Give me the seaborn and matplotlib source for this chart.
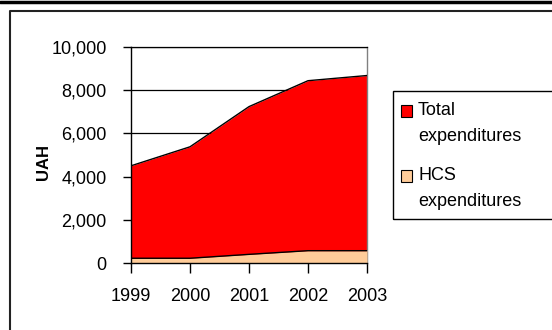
import matplotlib
matplotlib.use("Agg")
import matplotlib.pyplot as plt
import seaborn as sns
import pandas as pd
from matplotlib.patches import Rectangle
from matplotlib.lines import Line2D

# Expenditures by year, UAH
years = [1999, 2000, 2001, 2002, 2003]
total_exp = [4500, 5380, 7240, 8440, 8680]
hcs_exp = [220, 220, 400, 570, 570]
series_names = ["Total expenditures", "HCS expenditures"]
series_colors = ["#FF0000", "#FFCC99"]
y_ticks = [0, 2000, 4000, 6000, 8000, 10000]
y_label = "UAH"

sns.set_theme(style="white")
plt.rcParams["font.family"] = ["Liberation Sans", "DejaVu Sans"]

W, H = 552, 330
fig = plt.figure(figsize=(W / 100, H / 100), dpi=100)
fig.patch.set_facecolor("white")
ax = fig.add_axes([131 / W, (H - 263) / H, (367 - 131) / W, (263 - 47) / H])

df = pd.DataFrame({
    "year": years * 2,
    "value": total_exp + hcs_exp,
    "series": [series_names[0]] * len(years) + [series_names[1]] * len(years),
})

# filled areas, HCS in front of the total
ax.fill_between(years, 0, total_exp, color=series_colors[0], lw=0, zorder=2)
ax.fill_between(years, 0, hcs_exp, color=series_colors[1], lw=0, zorder=3)
sns.lineplot(data=df, x="year", y="value", hue="series",
             palette=["black", "black"], estimator=None, lw=1.0,
             legend=False, ax=ax, zorder=4)

ax.set_xlim(years[0], years[-1])
ax.set_ylim(y_ticks[0], y_ticks[-1])
ax.set_xticks(years)
ax.set_xticklabels([str(y) for y in years])
ax.set_yticks(y_ticks)
ax.set_yticklabels([f"{v:,}" for v in y_ticks])
ax.set_xlabel("")
ax.set_ylabel("")

ax.set_axisbelow(True)
ax.yaxis.grid(True, color="black", lw=0.9)
ax.xaxis.grid(False)
ax.set_facecolor("white")

for side in ["left", "bottom"]:
    ax.spines[side].set_color("black")
    ax.spines[side].set_linewidth(1.0)
    ax.spines[side].set_zorder(5)
ax.spines["top"].set_color("black")
ax.spines["top"].set_linewidth(0.9)
ax.spines["right"].set_color("#808080")
ax.spines["right"].set_linewidth(1.0)

ax.tick_params(axis="y", direction="out", length=6, width=1, color="black",
               pad=11.5, labelsize=13, labelcolor="black", left=True)
ax.tick_params(axis="x", direction="out", length=7, width=1, color="black",
               pad=11, labelsize=13, labelcolor="black", bottom=True)

fig.text(44 / W, 1 - 162 / H, y_label, rotation=90, ha="center", va="center",
         fontsize=12, fontweight="bold", color="black")

# legend box
fig.add_artist(Rectangle((393 / W, 1 - 219 / H), (560 - 393) / W, (219 - 91) / H,
                         transform=fig.transFigure, fill=False,
                         edgecolor="black", lw=1.0, clip_on=False))
first_baselines = [115, 180]
for name, color, base in zip(series_names, series_colors, first_baselines):
    fig.add_artist(Rectangle((401 / W, 1 - (base + 2) / H), 11 / W, 12 / H,
                             transform=fig.transFigure, facecolor=color,
                             edgecolor="black", lw=0.8))
    first, second = name.split(" ", 1)
    fig.text(418 / W, 1 - base / H, first, ha="left", va="baseline",
             fontsize=13, color="black")
    fig.text(418 / W, 1 - (base + 26) / H, second, ha="left", va="baseline",
             fontsize=13, color="black")

# outer frame
fig.add_artist(Line2D([0, 1], [1 - 1.5 / H] * 2, transform=fig.transFigure,
                      color="black", lw=2.5))
fig.add_artist(Line2D([9.5 / W, 9.5 / W, 1.01], [0, 1 - 11 / H, 1 - 11 / H],
                      transform=fig.transFigure, color="#222222", lw=1.5))

fig.savefig("out.png", dpi=100)
